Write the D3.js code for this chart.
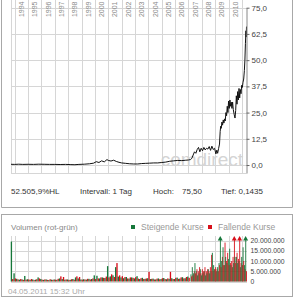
<!DOCTYPE html>
<html>
<head>
<meta charset="utf-8">
<script src="https://cdn.jsdelivr.net/npm/d3@7"></script>
<style>
body { margin: 0; background: #fff; }
svg { display: block; font-family: "Liberation Sans", Arial, sans-serif; }
</style>
</head>
<body>
<div id="chart"></div>
<script>
// year labels on top of the price chart, grid at each year start
var years = [1994, 1995, 1996, 1997, 1998, 1999, 2000, 2001, 2002, 2003, 2004, 2005, 2006, 2007, 2008, 2009, 2010];
var gridYears = [1994, 1995, 1996, 1997, 1998, 1999, 2000, 2001, 2002, 2003, 2004, 2005, 2006, 2007, 2008, 2009, 2010, 2011];
var priceTicks = [0, 12.5, 25, 37.5, 50, 62.5, 75];
var volTicks = [0, 5, 10, 15, 20]; // millions

// closing price, time as decimal year
var priceT = [1993.72, 1994.0, 1994.3, 1994.6, 1995.0, 1995.4, 1995.8, 1996.2, 1996.6, 1997.0, 1997.4, 1997.8,
    1998.2, 1998.5, 1998.8, 1999.2, 1999.6, 1999.9, 2000.1, 2000.3, 2000.5, 2000.7, 2000.9, 2001.0, 2001.2,
    2001.4, 2001.6, 2001.8, 2002.0, 2002.3, 2002.6, 2002.9, 2003.2, 2003.5, 2003.8, 2004.1, 2004.4, 2004.7,
    2005.0, 2005.3, 2005.6, 2005.9, 2006.2, 2006.5, 2006.8, 2007.0, 2007.15, 2007.25, 2007.35, 2007.45,
    2007.55, 2007.65, 2007.75, 2007.85, 2007.95, 2008.05, 2008.15, 2008.25, 2008.35, 2008.45, 2008.55,
    2008.65, 2008.75, 2008.85, 2008.95, 2009.05, 2009.12, 2009.18, 2009.25, 2009.32, 2009.37, 2009.41,
    2009.45, 2009.5, 2009.55, 2009.6, 2009.65, 2009.7, 2009.75, 2009.8, 2009.85, 2009.9, 2009.95, 2010.0,
    2010.05, 2010.1, 2010.15, 2010.2, 2010.25, 2010.3, 2010.35, 2010.42, 2010.48, 2010.53, 2010.58, 2010.63,
    2010.68, 2010.73, 2010.78, 2010.83, 2010.88, 2010.93, 2010.98, 2011.03, 2011.08, 2011.13, 2011.18,
    2011.22, 2011.26, 2011.3, 2011.32, 2011.34];
var priceV = [0.35, 0.3, 0.4, 0.3, 0.35, 0.3, 0.4, 0.35, 0.3, 0.3, 0.25, 0.3,
    0.2, 0.15, 0.3, 0.4, 0.6, 0.9, 1.6, 1.2, 2.0, 1.5, 2.6, 2.2, 1.9,
    2.3, 1.7, 1.3, 1.0, 0.8, 0.6, 0.5, 0.5, 0.7, 0.8, 0.9, 1.0, 1.0,
    1.2, 1.4, 1.8, 2.0, 2.2, 2.1, 2.3, 2.4, 2.6, 3.2, 4.8, 6.3,
    5.6, 7.4, 8.4, 6.3, 8.0, 6.8, 8.4, 7.2, 8.0, 7.6, 8.8,
    7.0, 9.0, 7.4, 8.0, 5.3, 7.1, 5.6, 7.8, 10, 16, 18.5,
    17.5, 20.5, 19, 21.5, 20, 22, 21, 25, 23.5, 28, 25, 30.5,
    27, 31, 28, 30, 27, 30, 26.5, 24, 22.4, 26, 33, 29,
    35, 31, 36.5, 32, 36, 34, 38, 37, 39.5, 41, 45,
    50, 58, 64, 61, 66];

// volume per slot in millions: rising days (green) and falling days (red)
var volT = [1993.8, 1994.0, 1994.2, 1994.4, 1994.6, 1994.8, 1995.0, 1995.2, 1995.4, 1995.6, 1995.8,
    1996.0, 1996.2, 1996.4, 1996.6, 1996.8, 1997.0, 1997.2, 1997.4, 1997.6, 1997.8,
    1998.0, 1998.2, 1998.4, 1998.6, 1998.8, 1999.0, 1999.2, 1999.4, 1999.6, 1999.8,
    2000.0, 2000.2, 2000.4, 2000.6, 2000.8, 2001.0, 2001.2, 2001.4, 2001.6, 2001.8,
    2002.0, 2002.2, 2002.4, 2002.6, 2002.8, 2003.0, 2003.2, 2003.4, 2003.6, 2003.8,
    2004.0, 2004.2, 2004.4, 2004.6, 2004.8, 2005.0, 2005.2, 2005.4, 2005.6, 2005.8,
    2006.0, 2006.2, 2006.4, 2006.6, 2006.8, 2007.0, 2007.2,
    2007.3, 2007.4, 2007.5, 2007.6, 2007.7, 2007.8, 2007.9, 2008.0, 2008.1, 2008.2,
    2008.3, 2008.4, 2008.5, 2008.6, 2008.7, 2008.8, 2008.9, 2009.0, 2009.1, 2009.2,
    2009.3, 2009.4, 2009.5, 2009.6, 2009.7, 2009.8, 2009.9, 2010.0, 2010.1, 2010.2,
    2010.3, 2010.4, 2010.5, 2010.6, 2010.7, 2010.8, 2010.9, 2011.0, 2011.1, 2011.2, 2011.3];
var volUp = [19.5, 4.0, 1.3, 0.9, 1.0, 2.7, 1.1, 0.8, 1.0, 0.9, 2.0,
    1.2, 0.8, 1.0, 0.7, 0.9, 1.0, 0.8, 1.5, 1.2, 0.9,
    1.0, 0.8, 1.2, 2.0, 1.5, 1.0, 1.1, 0.9, 1.3, 1.2,
    3.0, 2.8, 1.5, 2.0, 1.7, 7.5, 2.5, 3.0, 7.0, 2.4,
    2.0, 1.6, 2.2, 1.4, 2.0, 1.5, 2.6, 1.2, 1.8, 1.3,
    1.6, 1.2, 1.4, 1.0, 1.5, 1.2, 1.7, 1.1, 1.3, 1.6,
    1.2, 1.9, 1.4, 2.1, 1.6, 2.4, 3.5,
    7, 4, 9, 5, 3, 4, 6, 3, 4, 5,
    3, 4, 6, 4, 5, 14, 8, 6, 5, 7,
    9, 24, 10, 16.7, 8, 12, 9, 11, 16, 8,
    7, 9, 12, 12, 9, 10, 7, 12, 16.7, 8, 25];
var volDown = [1.2, 1.5, 1.0, 1.2, 0.8, 0.9, 1.0, 1.2, 0.7, 1.1, 1.5,
    0.9, 1.0, 0.8, 1.1, 0.8, 0.9, 1.3, 2.5, 2.2, 1.0,
    0.8, 1.1, 0.9, 2.5, 2.2, 0.9, 1.0, 1.3, 1.0, 1.5,
    1.2, 1.5, 2.0, 1.8, 2.4, 2.0, 3.5, 2.2, 9.0, 3.0,
    2.6, 2.2, 1.5, 2.0, 1.8, 2.1, 1.4, 1.6, 1.2, 1.5,
    4.7, 1.3, 1.0, 1.4, 1.1, 1.6, 1.2, 1.5, 4.7, 1.2,
    1.8, 1.3, 2.0, 1.5, 2.2, 1.8, 2.5,
    3, 5, 4, 6, 5, 7, 4, 6, 5, 7,
    5, 6, 5, 7, 13, 5, 6, 7, 6, 5,
    8, 7, 12, 8, 19, 10, 14, 8, 9, 10,
    12, 25, 9, 14, 11, 26, 9, 8, 10, 6, 5];

var statsText = [["52.505,9%HL", 11], ["Intervall: 1 Tag", 80], ["Hoch:", 153], ["75,50", 182], ["Tief: 0,1435", 221]];

var de = d3.formatLocale({decimal: ",", thousands: ".", grouping: [3], currency: ["", " €"]});
var fmtPrice = de.format(",.1f"),
    fmtVol = de.format(",.0f");

var W = 294, H = 300;
var gridColor = "#d6d6d6", frameColor = "#a8a8a8";
var upColor = "#16773a", downColor = "#d7101b";

var svg = d3.select("#chart").append("svg")
    .attr("width", W)
    .attr("height", H);

// panels
svg.append("path")
    .attr("d", "M1.5,0V207.5H292.5V0")
    .attr("fill", "none")
    .attr("stroke", frameColor);
svg.append("rect")
    .attr("x", 1.5).attr("y", 214.5)
    .attr("width", 291).attr("height", 82)
    .attr("fill", "none")
    .attr("stroke", frameColor);

var x = d3.scaleLinear().domain([1993.72, 2011.34]).range([11, 246.5]);
var y = d3.scaleLinear().domain([-3.8, 75]).range([173, 7.7]);
var yv = d3.scaleLinear().domain([0, 20]).range([281.5, 240.5]);

// ---- price chart ----
var main = svg.append("g");

main.append("g").selectAll("line")
    .data(priceTicks)
    .enter().append("line")
    .attr("x1", 11).attr("x2", 246.5)
    .attr("y1", function(d) { return Math.round(y(d)) + 0.5; })
    .attr("y2", function(d) { return Math.round(y(d)) + 0.5; })
    .attr("stroke", gridColor);

main.append("g").selectAll("line")
    .data(gridYears)
    .enter().append("line")
    .attr("x1", function(d) { return Math.round(x(d)) + 0.5; })
    .attr("x2", function(d) { return Math.round(x(d)) + 0.5; })
    .attr("y1", 0).attr("y2", 173)
    .attr("stroke", gridColor);

main.append("line")
    .attr("x1", 11.5).attr("x2", 11.5)
    .attr("y1", 0).attr("y2", 173)
    .attr("stroke", gridColor);
main.append("line")
    .attr("x1", 11).attr("x2", 246.5)
    .attr("y1", 173.5).attr("y2", 173.5)
    .attr("stroke", gridColor);

main.append("g").selectAll("text")
    .data(years)
    .enter().append("text")
    .attr("transform", function(d) { return "translate(" + x(d + 0.5) + ",1.5) rotate(-90)"; })
    .attr("dy", "0.35em")
    .attr("text-anchor", "end")
    .attr("font-size", 7)
    .attr("fill", "#8a8a8a")
    .text(function(d) { return d; });

// watermark
main.append("text")
    .attr("x", 243).attr("y", 166)
    .attr("text-anchor", "end")
    .attr("font-size", 19)
    .attr("fill", "#d4d4d4")
    .text("comdirect");

var line = d3.line()
    .x(function(d, i) { return x(priceT[i]); })
    .y(function(d) { return y(d); });

main.append("path")
    .datum(priceV)
    .attr("d", line)
    .attr("fill", "none")
    .attr("stroke", "#111")
    .attr("stroke-width", 1);

var yAxis = main.append("g")
    .attr("transform", "translate(246.5,0)")
    .call(d3.axisRight(y).tickValues(priceTicks).tickSize(3).tickSizeOuter(0).tickPadding(2).tickFormat(fmtPrice));
yAxis.select(".domain").attr("stroke", "#888");
yAxis.selectAll(".tick line").attr("stroke", "#666");
yAxis.selectAll("text")
    .attr("font-size", 8)
    .attr("font-family", "Liberation Sans, Arial, sans-serif")
    .attr("fill", "#444");

svg.append("g").selectAll("text")
    .data(statsText)
    .enter().append("text")
    .attr("x", function(d) { return d[1]; })
    .attr("y", 193.5)
    .attr("font-size", 8)
    .attr("fill", "#333")
    .text(function(d) { return d[0]; });

// ---- volume chart ----
var vol = svg.append("g");

vol.append("text")
    .attr("x", 11).attr("y", 230)
    .attr("font-size", 8)
    .attr("fill", "#888")
    .text("Volumen (rot-grün)");

var legend = [["Steigende Kurse", upColor, 131], ["Fallende Kurse", downColor, 208]];
var lg = vol.selectAll(".lg")
    .data(legend)
    .enter().append("g")
    .attr("class", "lg");
lg.append("rect")
    .attr("x", function(d) { return d[2]; })
    .attr("y", 225).attr("width", 4).attr("height", 4)
    .attr("fill", function(d) { return d[1]; });
lg.append("text")
    .attr("x", function(d) { return d[2] + 10; })
    .attr("y", 230)
    .attr("font-size", 8.5)
    .attr("fill", "#999")
    .text(function(d) { return d[0]; });

vol.append("g").selectAll("line")
    .data(volTicks)
    .enter().append("line")
    .attr("x1", 11).attr("x2", 247)
    .attr("y1", function(d) { return Math.round(yv(d)) + 0.5; })
    .attr("y2", function(d) { return Math.round(yv(d)) + 0.5; })
    .attr("stroke", gridColor);

vol.append("g").selectAll("line")
    .data(gridYears)
    .enter().append("line")
    .attr("x1", function(d) { return Math.round(x(d)) + 0.5; })
    .attr("x2", function(d) { return Math.round(x(d)) + 0.5; })
    .attr("y1", 236).attr("y2", 283)
    .attr("stroke", gridColor);
vol.append("line")
    .attr("x1", 11.5).attr("x2", 11.5)
    .attr("y1", 236).attr("y2", 283)
    .attr("stroke", gridColor);

// each slot split: green half on the left, red half on the right
var bars = [];
volT.forEach(function(t, i) {
    var next = i < volT.length - 1 ? volT[i + 1] : t + 0.1;
    var w = x(next) - x(t);
    bars.push({x0: x(t) - w / 2, w: w / 2, v: volUp[i], c: upColor});
    bars.push({x0: x(t), w: w / 2, v: volDown[i], c: downColor});
});

var capY = 239.5;
vol.append("g").selectAll("rect")
    .data(bars)
    .enter().append("rect")
    .attr("x", function(d) { return d.x0; })
    .attr("width", function(d) { return Math.max(d.w, 0.9); })
    .attr("y", function(d) { return Math.max(capY, yv(d.v)); })
    .attr("height", function(d) { return yv(0) - Math.max(capY, yv(d.v)); })
    .attr("fill", function(d) { return d.c; });

// arrows where the volume runs off the scale
vol.append("g").selectAll("path")
    .data(bars.filter(function(d) { return d.v > 20; }))
    .enter().append("path")
    .attr("d", function(d) {
        var cx = d.x0 + d.w / 2;
        return "M" + (cx - 2.5) + ",240.5L" + cx + ",236L" + (cx + 2.5) + ",240.5Z";
    })
    .attr("fill", function(d) { return d.c; });

var vAxis = vol.append("g")
    .attr("transform", "translate(247.5,0)")
    .call(d3.axisRight(yv).tickValues(volTicks).tickSize(0).tickPadding(3)
        .tickFormat(function(d) { return fmtVol(d * 1e6); }));
vAxis.select(".domain").remove();
vAxis.selectAll("text")
    .attr("font-size", 6.8)
    .attr("font-family", "Liberation Sans, Arial, sans-serif")
    .attr("fill", "#444");

vol.append("text")
    .attr("x", 8).attr("y", 294)
    .attr("font-size", 8)
    .attr("fill", "#aaa")
    .text("04.05.2011 15:32 Uhr");
</script>
</body>
</html>
